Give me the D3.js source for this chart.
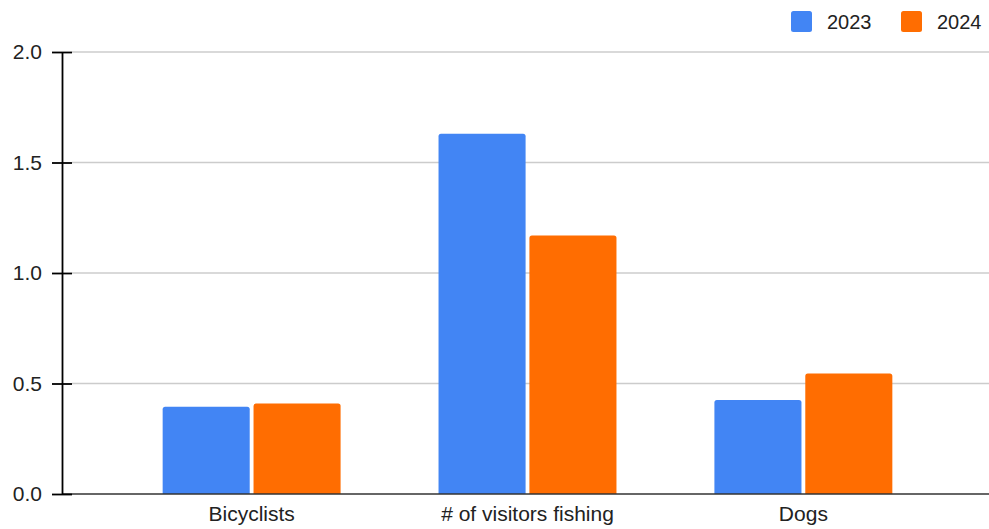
<!DOCTYPE html>
<html>
<head>
<meta charset="utf-8">
<script src="https://cdn.jsdelivr.net/npm/d3@7"></script>
<style>
  html, body { margin: 0; padding: 0; background: #fff; }
  svg { display: block; font-family: "Liberation Sans", Arial, sans-serif; }
</style>
</head>
<body>
<svg id="chart" width="989" height="529"></svg>
<script>
const categories = ["Bicyclists", "# of visitors fishing", "Dogs"];
const seriesNames = ["2023", "2024"];
const values2023 = [0.395, 1.63, 0.425];
const values2024 = [0.41, 1.17, 0.545];
const yTicks = [0, 0.5, 1.0, 1.5, 2.0];
const colors = ["#4285f4", "#ff6d01"];

const seriesValues = [values2023, values2024];
const W = 989, H = 529;
const svg = d3.select("#chart");

const y = d3.scaleLinear().domain([0, 2]).range([494, 52]);
const x = d3.scaleBand().domain(categories).range([113, 942])
  .paddingInner(0.355).paddingOuter(0.18);
const xs = d3.scaleBand().domain(seriesNames).range([0, x.bandwidth()]).paddingInner(0.042);

const axisX = 62;

// gridlines
svg.append("g").selectAll("line").data(yTicks.filter(d => d > 0)).join("line")
  .attr("x1", axisX + 10).attr("x2", W)
  .attr("y1", d => y(d)).attr("y2", d => y(d))
  .attr("stroke", "#cccccc").attr("stroke-width", 1.3);

// bars with rounded top corners
function barPath(x0, w, yTop, yBase, r) {
  r = Math.min(r, w / 2, yBase - yTop);
  return `M${x0},${yBase}V${yTop + r}Q${x0},${yTop} ${x0 + r},${yTop}H${x0 + w - r}Q${x0 + w},${yTop} ${x0 + w},${yTop + r}V${yBase}Z`;
}
const bars = [];
categories.forEach((c, i) => {
  seriesNames.forEach((s, j) => {
    bars.push({ c, s, v: seriesValues[j][i], color: colors[j] });
  });
});
svg.append("g").selectAll("path").data(bars).join("path")
  .attr("d", d => barPath(x(d.c) + xs(d.s), xs.bandwidth(), y(d.v), y(0), 2.5))
  .attr("fill", d => d.color);

// baseline
svg.append("line")
  .attr("x1", axisX).attr("x2", W)
  .attr("y1", y(0)).attr("y2", y(0))
  .attr("stroke", "#333").attr("stroke-width", 1.3);

// y axis
const yAxis = svg.append("g").attr("transform", `translate(${axisX},0)`)
  .call(d3.axisLeft(y).tickValues(yTicks).tickFormat(d3.format(".1f"))
    .tickSizeInner(10).tickSizeOuter(0).tickPadding(10));
yAxis.select(".domain").attr("stroke", "#000").attr("stroke-width", 1.8);
yAxis.selectAll(".tick line").attr("x1", 10).attr("x2", -10)
  .attr("stroke", "#000").attr("stroke-width", 1.8);
yAxis.selectAll(".tick text").attr("font-size", 21)
  .attr("font-family", "'Liberation Sans', Arial, sans-serif").attr("fill", "#222");

// x axis labels
const xAxis = svg.append("g").attr("transform", `translate(0,${y(0)})`)
  .call(d3.axisBottom(x).tickSize(0).tickPadding(12));
xAxis.select(".domain").remove();
xAxis.selectAll(".tick text").attr("font-size", 21)
  .attr("font-family", "'Liberation Sans', Arial, sans-serif").attr("fill", "#222");

// legend
const legendX = [791, 901];
const lg = svg.append("g").selectAll("g").data(seriesNames).join("g")
  .attr("transform", (d, i) => `translate(${legendX[i]},11)`);
lg.append("rect").attr("width", 21).attr("height", 21).attr("rx", 2.5)
  .attr("fill", (d, i) => colors[i]);
lg.append("text").attr("x", 36).attr("y", 10.5).attr("dy", "0.35em")
  .attr("font-size", 20).attr("fill", "#222").text(d => d);
</script>
</body>
</html>
